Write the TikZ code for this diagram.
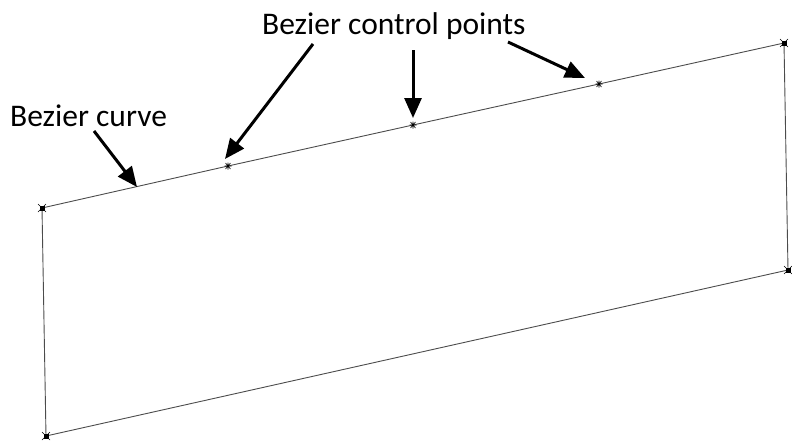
\documentclass[tikz,border=0pt]{standalone}
\usepackage{fontspec}
\setmainfont{Carlito}
\usetikzlibrary{arrows.meta}
\tikzset{
  edge/.style={draw=black!70, line width=0.9pt},
  pointer/.style={line width=3pt, -{Triangle[length=20pt,width=17pt]}},
  label/.style={font=\fontsize{31.5}{36}\selectfont, inner sep=0pt, anchor=base west},
  ctrlmark/.pic={\draw[line width=0.6pt] (-3.5,0)--(3.5,0) (-2.5,-3)--(2.5,3) (-2.5,3)--(2.5,-3) (0,-3.5)--(0,3.5);},
  cornermark/.pic={\fill (-2.5,-2.5) rectangle (2.5,2.5); \draw[line width=0.5pt] (-4,-4)--(4,4) (-4,4)--(4,-4);}
}
\begin{document}
\begin{tikzpicture}[x=1pt,y=-1pt]
\useasboundingbox (0,0) rectangle (792,442);
% corners
\coordinate (tl) at (42,208);
\coordinate (tr) at (784,43);
\coordinate (br) at (788,270);
\coordinate (bl) at (46,436);
% control points
\coordinate (c1) at (228,166);
\coordinate (c2) at (413,125);
\coordinate (c3) at (599,84);
% curve and sides
\draw[edge] (tl) -- (c1) -- (c2) -- (c3) -- (tr);
\draw[edge] (tr) -- (br) -- (bl) -- (tl);
% markers
\foreach \p in {c1,c2,c3} \pic at (\p) {ctrlmark};
\foreach \p in {tl,tr,br,bl} \pic at (\p) {cornermark};
% labels
\node[label] (lcurve) at (10,126) {Bezier curve};
\node[label] (lctrl) at (262,34) {Bezier control points};
% arrow ends
\coordinate (a0s) at (94,131);
\coordinate (a0e) at (137,187);
\coordinate (a1s) at (313,44);
\coordinate (a1e) at (225,159);
\coordinate (a2s) at (413,50);
\coordinate (a2e) at (413,118);
\coordinate (a3s) at (508,42);
\coordinate (a3e) at (585,78);
\draw[pointer] (a0s) -- (a0e);
\draw[pointer] (a1s) -- (a1e);
\draw[pointer] (a2s) -- (a2e);
\draw[pointer] (a3s) -- (a3e);
\end{tikzpicture}
\end{document}
